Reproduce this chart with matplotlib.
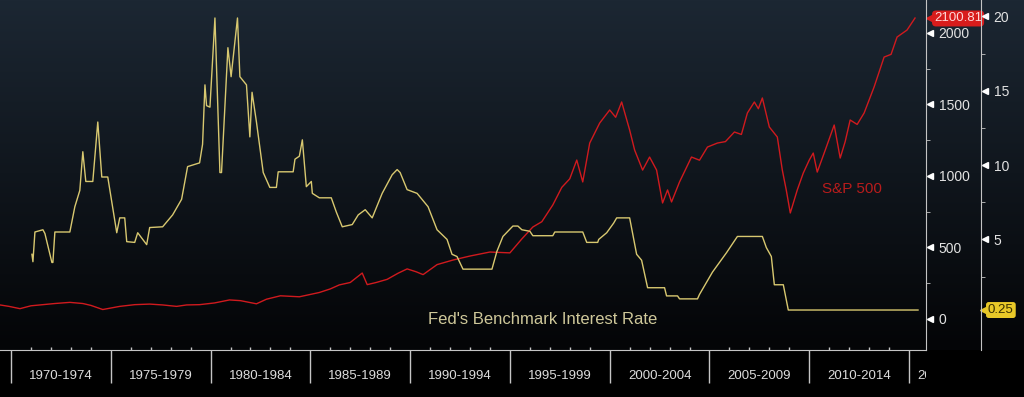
import numpy as np
import matplotlib
matplotlib.use("Agg")
import matplotlib.pyplot as plt
from matplotlib.transforms import Bbox, TransformedBbox, blended_transform_factory

plt.rcParams["font.family"] = ["Liberation Sans", "DejaVu Sans"]

# data
rate_years = [1971.05, 1971.1, 1971.2, 1971.6, 1971.7, 1972.05, 1972.1, 1972.2, 1972.95,
              1973.2, 1973.45, 1973.6, 1973.75, 1974.1, 1974.35, 1974.55, 1974.85,
              1975.3, 1975.45, 1975.7, 1975.8, 1976.2, 1976.35, 1976.8, 1976.95,
              1977.6, 1978.1, 1978.55, 1978.85, 1979.45, 1979.6, 1979.72, 1979.8,
              1979.97, 1980.22, 1980.47, 1980.55, 1980.87, 1981.03, 1981.35, 1981.47,
              1981.8, 1981.97, 1982.08, 1982.3, 1982.64, 1982.97, 1983.3, 1983.39,
              1984.14, 1984.23, 1984.45, 1984.6, 1984.8, 1985.05, 1985.1, 1985.45,
              1986.05, 1986.3, 1986.6, 1987.1, 1987.4, 1987.75, 1988.1, 1988.6,
              1989.1, 1989.35, 1989.5, 1989.85, 1990.35, 1990.9, 1991.35, 1991.85,
              1992.1, 1992.35, 1992.65, 1994.1, 1994.35, 1994.65, 1995.15, 1995.4,
              1995.6, 1996.0, 1996.15, 1997.15, 1997.25, 1998.65, 1998.85, 1999.4,
              1999.45, 1999.85, 2000.2, 2000.35, 2001.0, 2001.35, 2001.6, 2001.9,
              2002.75, 2002.85, 2003.4, 2003.5, 2004.4, 2004.5, 2005.15, 2005.85,
              2006.4, 2007.65, 2007.85, 2008.1, 2008.25, 2008.7, 2008.95, 2015.45]
rate_values = [4.0, 3.5, 5.5, 5.65, 5.4, 3.45, 3.45, 5.5, 5.5,
               7.2, 8.3, 10.9, 8.9, 8.9, 12.9, 9.2, 9.2,
               5.45, 6.45, 6.45, 4.85, 4.8, 5.45, 4.65, 5.8,
               5.85, 6.65, 7.7, 9.9, 10.15, 11.4, 15.4, 14.0,
               13.9, 19.9, 9.5, 9.5, 17.9, 15.95, 19.9, 15.95,
               15.4, 11.9, 14.9, 12.9, 9.5, 8.5, 8.5, 9.55,
               9.55, 10.4, 10.6, 11.7, 8.55, 8.9, 8.1, 7.8,
               7.8, 6.85, 5.85, 6.0, 6.65, 7.0, 6.45, 8.1,
               9.35, 9.7, 9.5, 8.35, 8.1, 7.2, 5.65, 5.0,
               4.0, 3.85, 3.0, 3.0, 4.2, 5.2, 5.9, 5.9,
               5.65, 5.55, 5.25, 5.25, 5.5, 5.5, 4.8, 4.8,
               5.0, 5.45, 6.1, 6.45, 6.45, 4.0, 3.6, 1.75,
               1.75, 1.2, 1.2, 1.0, 1.0, 1.3, 2.8, 4.1,
               5.2, 5.2, 4.45, 3.85, 1.95, 1.95, 0.25, 0.25]

sp_years = [1969.45, 1969.9, 1970.45, 1971.0, 1971.45, 1972.2, 1972.95, 1973.6, 1974.0,
            1974.6, 1975.45, 1976.2, 1976.95, 1977.6, 1978.3, 1978.8, 1979.45, 1980.2,
            1980.95, 1981.5, 1982.3, 1982.8, 1983.5, 1984.45, 1985.45, 1986.0, 1986.45,
            1987.0, 1987.6, 1987.85, 1988.3, 1988.85, 1989.4, 1989.85, 1990.3, 1990.65,
            1991.35, 1992.15, 1993.0, 1994.0, 1995.0, 1995.6, 1996.15, 1996.6, 1997.15,
            1997.6, 1998.0, 1998.35, 1998.65, 1999.0, 1999.5, 2000.0, 2000.3, 2000.6,
            2001.0, 2001.25, 2001.65, 2002.0, 2002.35, 2002.65, 2002.9, 2003.1, 2003.5,
            2004.1, 2004.5, 2004.9, 2005.4, 2005.8, 2006.25, 2006.6, 2006.9, 2007.25,
            2007.45, 2007.65, 2008.0, 2008.4, 2008.65, 2008.85, 2009.05, 2009.4, 2009.7,
            2010.0, 2010.2, 2010.4, 2010.8, 2011.25, 2011.55, 2011.8, 2012.05, 2012.4,
            2012.75, 2013.25, 2013.75, 2014.1, 2014.4, 2014.9, 2015.3]
sp_values = [98, 88, 72, 92, 98, 108, 116, 108, 95,
             66, 88, 100, 104, 98, 88, 98, 100, 112,
             133, 128, 106, 138, 162, 155, 185, 210, 238,
             255, 321, 240, 255, 277, 320, 350, 330, 310,
             380, 412, 440, 468, 462, 560, 643, 680, 797,
             920, 980, 1111, 958, 1230, 1370, 1461, 1410, 1517,
             1321, 1181, 1041, 1132, 1041, 811, 902, 818, 958,
             1132, 1110, 1202, 1230, 1240, 1307, 1290, 1440, 1517,
             1470, 1545, 1342, 1272, 1041, 900, 741, 902, 1020,
             1111, 1160, 1027, 1180, 1356, 1125, 1240, 1391, 1360,
             1440, 1622, 1831, 1850, 1971, 2020, 2104]

major_years = list(range(1970, 2016, 5))
period_labels = ["1970-1974", "1975-1979", "1980-1984", "1985-1989", "1990-1994",
                 "1995-1999", "2000-2004", "2005-2009", "2010-2014", "2015-2019"]
sp_ticks = [0, 500, 1000, 1500, 2000]
rate_ticks = [5, 10, 15, 20]
sp_last = 2100.81
rate_last = 0.25

W, H = 1024, 397
fig = plt.figure(figsize=(W / 100, H / 100), dpi=100, facecolor="black")

# background gradient
bg = fig.add_axes([0, 0, 1, 1], zorder=-5)
rows = np.arange(H)
top = np.array([28, 39, 51]) / 255
bot = np.array([4, 5, 7]) / 255
t = np.clip(rows / 345, 0, 1)[:, None]
grad = top * (1 - t) + bot * t
grad[rows >= 350] = 0
bg.imshow(np.repeat(grad[:, None, :], 2, axis=1), aspect="auto", extent=[0, 1, 0, 1])
bg.axis("off")

ax_right = 926 / W
ax_bottom = (H - 350) / H
ax = fig.add_axes([0, ax_bottom, ax_right, 1 - ax_bottom])
ax.set_facecolor("none")
ax2 = ax.twinx()
ax2.set_facecolor("none")

sp_color = "#d01a1e"
rate_color = "#d8c870"
grey = "#c4c4c4"

ax.plot(sp_years, sp_values, color=sp_color, lw=1.0, zorder=3)
ax2.plot(rate_years, rate_values, color=rate_color, lw=1.0, zorder=3)

ax.set_xlim(1969.45, 2015.85)
ax.set_ylim(-217, 2230)
ax2.set_ylim(-2.44, 21.11)

for s in ["left", "top"]:
    ax.spines[s].set_visible(False)
    ax2.spines[s].set_visible(False)
ax2.spines["bottom"].set_visible(False)
ax.spines["bottom"].set_color(grey)
ax.spines["right"].set_color(grey)
ax2.spines["right"].set_color(grey)
ax2.spines["right"].set_position(("axes", 981 / 926))

# x axis: year ticks and period labels
ax.set_xticks(major_years)
ax.set_xticks(range(1970, 2016), minor=True)
ax.set_xticklabels([])
ax.tick_params(axis="x", which="major", direction="out", length=24, width=1, color=grey)
ax.tick_params(axis="x", which="minor", direction="in", length=2.5, width=1, color=grey)
clip = TransformedBbox(Bbox([[0, 0], [926 / W, 1]]), fig.transFigure)
xtrans = blended_transform_factory(ax.transData, ax.transAxes)
for i, (yr, lab) in enumerate(zip(major_years, period_labels)):
    last = i == len(major_years) - 1
    # the last (unfinished) period starts just right of its tick and is cut by the frame
    txt = ax.text(yr + 0.4 if last else yr + 2.5, -25 / 350 - 0.002, lab, transform=xtrans,
                  ha="left" if last else "center", va="center", color="#dcdcdc", fontsize=9.5)
    txt.set_clip_path(None)
    txt.set_clip_box(clip)
    txt.set_clip_on(True)

# S&P axis
ax.yaxis.tick_right()
ax.set_yticks(sp_ticks)
ax.set_yticks([250, 750, 1250, 1750], minor=True)
ax.tick_params(axis="y", which="major", length=0, pad=9, labelsize=10, labelcolor="#e2e2e2")
ax.tick_params(axis="y", which="minor", direction="out", length=3, color=grey)
ytr = blended_transform_factory(ax.transAxes, ax.transData)
ax.plot([1 + 4 / 926] * len(sp_ticks), sp_ticks, ls="none", marker="<", ms=5,
        color="white", transform=ytr, clip_on=False)

# rate axis
ax2.set_yticks(rate_ticks)
ax2.set_yticks([2.5, 7.5, 12.5, 17.5], minor=True)
ax2.tick_params(axis="y", which="major", length=0, pad=9, labelsize=10, labelcolor="#e2e2e2")
ax2.tick_params(axis="y", which="minor", direction="out", length=3, color=grey)
ytr2 = blended_transform_factory(ax2.transAxes, ax2.transData)
ax2.plot([981 / 926 + 4 / 926] * len(rate_ticks), rate_ticks, ls="none", marker="<", ms=5,
         color="white", transform=ytr2, clip_on=False, zorder=6)

# last value tags
ax.plot([1 + 5 / 926], [sp_last], marker="<", ms=7, color="#d81c1c", transform=ytr, clip_on=False)
ax.text(1 + 8 / 926, sp_last, f"{sp_last:.2f}", transform=ytr, ha="left", va="center",
        fontsize=9.5, color="#ffd8d8", zorder=5,
        bbox=dict(boxstyle="round,pad=0.15,rounding_size=0.3", fc="#d81c1c", ec="none"))
ax2.plot([981 / 926 + 4 / 926], [rate_last], marker="<", ms=7, color="#e8c828",
         transform=ytr2, clip_on=False)
ax2.text(981 / 926 + 7 / 926, rate_last, f"{rate_last:.2f}", transform=ytr2, ha="left",
         va="center", fontsize=9.5, color="#3a3000",
         bbox=dict(boxstyle="round,pad=0.15,rounding_size=0.2", fc="#e8c828", ec="none"))

# series labels
ax.text(428 / 926, (350 - 319) / 350, "Fed's Benchmark Interest Rate", transform=ax.transAxes,
        ha="left", va="center", fontsize=12, color="#cfc89a")
ax.text(822 / 926, (350 - 189) / 350, "S&P 500", transform=ax.transAxes,
        ha="left", va="center", fontsize=11, color="#b81c1c")

fig.savefig("out.png", dpi=100, facecolor="black")
